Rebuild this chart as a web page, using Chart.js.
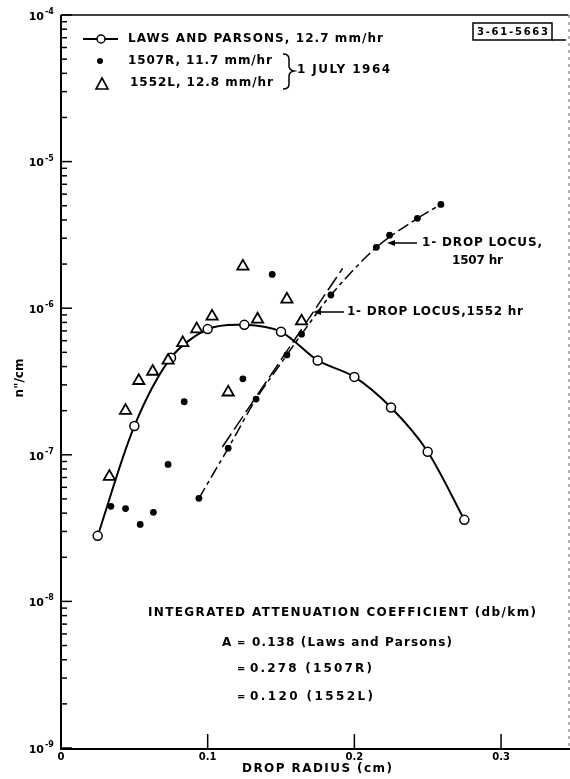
<!DOCTYPE html>
<html>
<head>
<meta charset="utf-8">
<script src="https://cdn.jsdelivr.net/npm/chart.js@4.4.1/dist/chart.umd.min.js"></script>
<style>
    html, body { margin: 0; padding: 0; background: #fff; }
</style>
</head>
<body>
<canvas id="dropChart" width="570" height="779"></canvas>
<script>
// Laws and Parsons distribution (open circles, smooth curve)
const lawsRadius = [0.025, 0.05, 0.075, 0.1, 0.125, 0.15, 0.175, 0.2, 0.225, 0.25, 0.275];
const lawsDensity = [2.8e-8, 1.57e-7, 4.6e-7, 7.2e-7, 7.7e-7, 6.9e-7, 4.4e-7, 3.4e-7, 2.1e-7, 1.05e-7, 3.6e-8];

// 1507R measurements (dots)
const r1507Radius = [0.034, 0.044, 0.054, 0.063, 0.073, 0.084, 0.094, 0.114, 0.124, 0.133, 0.144, 0.154, 0.164, 0.184, 0.215, 0.224, 0.243, 0.259];
const r1507Density = [4.45e-8, 4.3e-8, 3.35e-8, 4.05e-8, 8.6e-8, 2.3e-7, 5.05e-8, 1.11e-7, 3.3e-7, 2.4e-7, 1.7e-6, 4.8e-7, 6.65e-7, 1.23e-6, 2.6e-6, 3.15e-6, 4.1e-6, 5.1e-6];

// 1552L measurements (triangles)
const l1552Radius = [0.033, 0.044, 0.053, 0.0625, 0.073, 0.083, 0.0925, 0.103, 0.114, 0.124, 0.134, 0.154, 0.164];
const l1552Density = [7.1e-8, 2.0e-7, 3.2e-7, 3.7e-7, 4.4e-7, 5.8e-7, 7.2e-7, 8.8e-7, 2.67e-7, 1.93e-6, 8.4e-7, 1.15e-6, 8.15e-7];

// 1-drop loci
const locus1507Radius = [0.094, 0.114, 0.133, 0.154, 0.164, 0.184, 0.215, 0.243, 0.259];
const locus1507Density = [5.05e-8, 1.11e-7, 2.4e-7, 4.8e-7, 6.65e-7, 1.23e-6, 2.6e-6, 4.1e-6, 5.1e-6];
const locus1552Radius = [0.11, 0.151, 0.192];
const locus1552Density = [1.13e-7, 4.6e-7, 1.87e-6];

// axis ticks
const xTicks = [0, 0.1, 0.2, 0.3];
const yDecades = [-9, -8, -7, -6, -5, -4];

const pts = (xs, ys) => xs.map((x, i) => ({ x: x, y: ys[i] }));

const FONT = '"DejaVu Sans", sans-serif';

// text drawn with spacing stretched to a target width
function putText(ctx, text, x, y, width, size) {
    ctx.font = 'bold ' + size + 'px ' + FONT;
    ctx.letterSpacing = '0px';
    if (width) {
        const w = ctx.measureText(text).width;
        ctx.letterSpacing = ((width - w) / Math.max(1, text.length - 1)) + 'px';
    }
    ctx.textAlign = 'left';
    ctx.textBaseline = 'middle';
    ctx.fillText(text, x, y);
    ctx.letterSpacing = '0px';
}

function arrowLeft(ctx, x1, x2, y) {
    ctx.beginPath();
    ctx.moveTo(x1, y);
    ctx.lineTo(x2 + 5, y);
    ctx.stroke();
    ctx.beginPath();
    ctx.moveTo(x2, y);
    ctx.lineTo(x2 + 8, y - 3);
    ctx.lineTo(x2 + 8, y + 3);
    ctx.closePath();
    ctx.fill();
}

const frame = {
    id: 'frame',
    afterDraw(chart) {
        const ctx = chart.ctx;
        const a = chart.chartArea;
        const xs = chart.scales.x;
        const ys = chart.scales.y;
        ctx.save();
        ctx.strokeStyle = '#000';
        ctx.fillStyle = '#000';

        // axes and top border
        ctx.lineWidth = 2;
        ctx.beginPath();
        ctx.moveTo(a.left, a.top);
        ctx.lineTo(a.left, a.bottom + 1);
        ctx.lineTo(570, a.bottom + 1);
        ctx.stroke();
        ctx.lineWidth = 1.5;
        ctx.beginPath();
        ctx.moveTo(a.left, a.top);
        ctx.lineTo(a.right, a.top);
        ctx.stroke();
        ctx.save();
        ctx.lineWidth = 1;
        ctx.strokeStyle = '#666';
        ctx.setLineDash([3, 4]);
        ctx.beginPath();
        ctx.moveTo(a.right + 0.5, a.top);
        ctx.lineTo(a.right + 0.5, a.bottom);
        ctx.stroke();
        ctx.restore();

        // y ticks, inside
        ctx.lineWidth = 1.5;
        yDecades.forEach(d => {
            for (let m = 1; m <= 9; m++) {
                if (d === yDecades[yDecades.length - 1] && m > 1) break;
                const py = ys.getPixelForValue(m * Math.pow(10, d));
                ctx.beginPath();
                ctx.moveTo(a.left, py);
                ctx.lineTo(a.left + (m === 1 ? 11 : 6), py);
                ctx.stroke();
            }
            const py = ys.getPixelForValue(Math.pow(10, d));
            ctx.font = 'bold 11px ' + FONT;
            ctx.textAlign = 'right';
            ctx.textBaseline = 'middle';
            ctx.fillText('10', 44, py + 2);
            ctx.font = 'bold 8px ' + FONT;
            ctx.textAlign = 'left';
            ctx.fillText('-' + Math.abs(d), 45, py - 3);
        });

        // x ticks, inside
        xTicks.forEach(v => {
            const px = xs.getPixelForValue(v);
            if (v > 0) {
                ctx.beginPath();
                ctx.moveTo(px, a.bottom);
                ctx.lineTo(px, a.bottom - 14);
                ctx.stroke();
            }
            ctx.font = 'bold 10px ' + FONT;
            ctx.textAlign = 'center';
            ctx.textBaseline = 'middle';
            ctx.fillText(v === 0 ? '0' : v.toFixed(1), px, 757);
        });

        // axis titles
        putText(ctx, 'DROP RADIUS (cm)', 242, 769, 150, 12);
        ctx.save();
        ctx.translate(20, 378);
        ctx.rotate(-Math.PI / 2);
        ctx.font = 'bold 12px ' + FONT;
        ctx.textAlign = 'center';
        ctx.textBaseline = 'middle';
        ctx.fillText('n"/cm', 0, 0);
        ctx.restore();

        // legend
        ctx.lineWidth = 2;
        ctx.beginPath();
        ctx.moveTo(83, 39);
        ctx.lineTo(118, 39);
        ctx.stroke();
        ctx.fillStyle = '#fff';
        ctx.lineWidth = 1.5;
        ctx.beginPath();
        ctx.arc(101, 39, 4, 0, Math.PI * 2);
        ctx.fill();
        ctx.stroke();
        ctx.fillStyle = '#000';
        ctx.beginPath();
        ctx.arc(100, 61, 3, 0, Math.PI * 2);
        ctx.fill();
        ctx.lineWidth = 1.6;
        ctx.beginPath();
        ctx.moveTo(102, 78);
        ctx.lineTo(108, 89);
        ctx.lineTo(96, 89);
        ctx.closePath();
        ctx.stroke();
        putText(ctx, 'LAWS AND PARSONS, 12.7 mm/hr', 128, 39, 255, 12);
        putText(ctx, '1507R, 11.7 mm/hr', 128, 61, 144, 12);
        putText(ctx, '1552L, 12.8 mm/hr', 130, 83, 143, 12);

        // brace and date
        ctx.lineWidth = 1.5;
        ctx.beginPath();
        ctx.moveTo(283, 54);
        ctx.quadraticCurveTo(289, 54, 289, 59);
        ctx.lineTo(289, 66);
        ctx.quadraticCurveTo(289, 70, 294, 71);
        ctx.quadraticCurveTo(289, 72, 289, 76);
        ctx.lineTo(289, 84);
        ctx.quadraticCurveTo(289, 89, 283, 89);
        ctx.stroke();
        putText(ctx, '1 JULY 1964', 297, 70, 93, 12);

        // figure number box
        ctx.lineWidth = 1.5;
        ctx.strokeRect(473, 23, 79, 17);
        ctx.beginPath();
        ctx.moveTo(552, 40);
        ctx.lineTo(566, 40);
        ctx.stroke();
        putText(ctx, '3-61-5663', 477, 32, 71, 10);

        // locus labels
        ctx.lineWidth = 1.5;
        arrowLeft(ctx, 417, 387, 243);
        putText(ctx, '1- DROP LOCUS,', 422, 243, 120, 12);
        putText(ctx, '1507 hr', 452, 261, 51, 12);
        arrowLeft(ctx, 344, 313, 312);
        putText(ctx, '1- DROP LOCUS,1552 hr', 347, 312, 176, 12);

        // attenuation note
        putText(ctx, 'INTEGRATED ATTENUATION COEFFICIENT (db/km)', 148, 613, 388, 12);
        putText(ctx, 'A', 222, 643, 0, 12);
        putText(ctx, '=', 237, 643, 0, 10);
        putText(ctx, '0.138 (Laws and Parsons)', 252, 643, 200, 12);
        putText(ctx, '=', 237, 669, 0, 10);
        putText(ctx, '0.278 (1507R)', 250, 669, 122, 12);
        putText(ctx, '=', 237, 697, 0, 10);
        putText(ctx, '0.120 (1552L)', 250, 697, 123, 12);

        ctx.restore();
    }
};

const chart = new Chart(document.getElementById('dropChart'), {
    type: 'scatter',
    data: {
        datasets: [{
            label: '1552L, 12.8 mm/hr',
            data: pts(l1552Radius, l1552Density),
            pointStyle: 'triangle',
            pointRadius: 6.5,
            pointBackgroundColor: '#fff',
            pointBorderColor: '#000',
            pointBorderWidth: 1.8,
            showLine: false
        }, {
            label: '1507R, 11.7 mm/hr',
            data: pts(r1507Radius, r1507Density),
            pointRadius: 3.4,
            pointBackgroundColor: '#000',
            pointBorderColor: '#000',
            pointBorderWidth: 0,
            showLine: false
        }, {
            label: 'Laws and Parsons, 12.7 mm/hr',
            data: pts(lawsRadius, lawsDensity),
            showLine: true,
            borderColor: '#000',
            borderWidth: 2,
            tension: 0.3,
            pointRadius: 4.5,
            pointBackgroundColor: '#fff',
            pointBorderColor: '#000',
            pointBorderWidth: 1.5
        }, {
            label: '1-drop locus, 1507 hr',
            data: pts(locus1507Radius, locus1507Density),
            showLine: true,
            borderColor: '#000',
            borderWidth: 1.5,
            borderDash: [12, 4, 4, 4],
            tension: 0.3,
            pointRadius: 0
        }, {
            label: '1-drop locus, 1552 hr',
            data: pts(locus1552Radius, locus1552Density),
            showLine: true,
            borderColor: '#000',
            borderWidth: 1.5,
            borderDash: [16, 5],
            pointRadius: 0
        }]
    },
    options: {
        responsive: false,
        animation: false,
        events: [],
        layout: {
            autoPadding: false,
            padding: { left: 61, right: 1.5, top: 15, bottom: 31 }
        },
        scales: {
            x: { type: 'linear', min: 0, max: 0.346, display: false },
            y: { type: 'logarithmic', min: 1e-9, max: 1e-4, display: false }
        },
        plugins: {
            legend: { display: false },
            tooltip: { enabled: false }
        }
    },
    plugins: [frame]
});
</script>
</body>
</html>
